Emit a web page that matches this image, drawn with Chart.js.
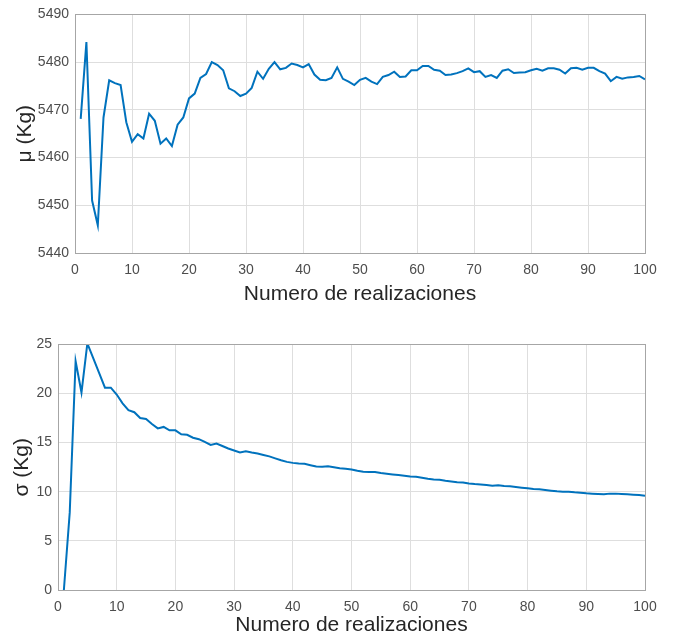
<!DOCTYPE html>
<html>
<head>
<meta charset="utf-8">
<script src="https://cdn.jsdelivr.net/npm/chart.js@4/dist/chart.umd.min.js"></script>
<style>
  html, body { margin: 0; padding: 0; background: #fff; }
  #wrap { position: relative; width: 673px; height: 641px; overflow: hidden; }
  canvas { position: absolute; left: 0; }
  #muChart { top: 0; }
  #sigmaChart { top: 330px; }
</style>
</head>
<body>
<div id="wrap">
  <canvas id="muChart" width="673" height="320"></canvas>
  <canvas id="sigmaChart" width="673" height="311"></canvas>
</div>
<script>
// numero de realizaciones
var realizaciones = [1,2,3,4,5,6,7,8,9,10,11,12,13,14,15,16,17,18,19,20,
  21,22,23,24,25,26,27,28,29,30,31,32,33,34,35,36,37,38,39,40,
  41,42,43,44,45,46,47,48,49,50,51,52,53,54,55,56,57,58,59,60,
  61,62,63,64,65,66,67,68,69,70,71,72,73,74,75,76,77,78,79,80,
  81,82,83,84,85,86,87,88,89,90,91,92,93,94,95,96,97,98,99,100];

// media (Kg)
var mu = [5468.1,5484.2,5451.0,5445.8,5468.4,5476.2,5475.6,5475.2,5467.4,5463.3,
  5464.9,5464.0,5469.2,5467.7,5462.9,5464.0,5462.4,5466.9,5468.4,5472.4,
  5473.4,5476.7,5477.5,5480.0,5479.4,5478.3,5474.5,5473.9,5472.9,5473.4,
  5474.6,5478.0,5476.5,5478.6,5480.0,5478.5,5478.8,5479.7,5479.4,5478.9,
  5479.6,5477.4,5476.3,5476.2,5476.7,5478.9,5476.5,5475.9,5475.2,5476.3,
  5476.7,5475.9,5475.4,5476.9,5477.3,5478.0,5476.9,5477.0,5478.3,5478.3,
  5479.2,5479.2,5478.4,5478.2,5477.3,5477.4,5477.7,5478.1,5478.7,5477.9,
  5478.1,5476.9,5477.3,5476.7,5478.2,5478.5,5477.7,5477.8,5477.9,5478.3,
  5478.6,5478.2,5478.7,5478.7,5478.4,5477.6,5478.7,5478.8,5478.4,5478.8,
  5478.8,5478.1,5477.6,5476.0,5476.9,5476.5,5476.8,5476.9,5477.1,5476.4];

// desviacion estandar (Kg)
var sigma = [0.0,7.9,23.3,20.1,25.1,23.6,22.1,20.6,20.6,19.9,
  19.0,18.3,18.1,17.5,17.4,16.9,16.45,16.6,16.25,16.25,
  15.85,15.8,15.5,15.35,15.07,14.76,14.9,14.66,14.4,14.2,
  14.0,14.12,14.0,13.9,13.75,13.6,13.4,13.2,13.04,12.94,
  12.87,12.84,12.7,12.57,12.54,12.6,12.5,12.4,12.34,12.27,
  12.13,12.03,12.0,12.0,11.9,11.83,11.76,11.7,11.63,11.56,
  11.53,11.43,11.32,11.26,11.22,11.12,11.05,10.98,10.95,10.85,
  10.79,10.75,10.68,10.62,10.65,10.58,10.55,10.48,10.41,10.35,
  10.28,10.25,10.18,10.11,10.04,10.01,10.01,9.94,9.91,9.84,
  9.81,9.77,9.74,9.81,9.81,9.77,9.74,9.7,9.67,9.6];

var xTicks = [0,10,20,30,40,50,60,70,80,90,100];
var muTicks = [5440,5450,5460,5470,5480,5490];
var sigmaTicks = [0,5,10,15,20,25];

Chart.defaults.font.family = '"Liberation Sans", Arial, sans-serif';
Chart.defaults.color = '#4d4d4d';

function points(xs, ys) {
  return xs.map(function(x, i) { return { x: x, y: ys[i] }; });
}

// box around the plot area, like the matlab axes
var boxPlugin = {
  id: 'box',
  afterDraw: function(chart) {
    var a = chart.chartArea, ctx = chart.ctx;
    ctx.save();
    ctx.strokeStyle = '#a6a6a6';
    ctx.lineWidth = 1;
    ctx.strokeRect(Math.round(a.left) + 0.5, Math.round(a.top) + 0.5,
      Math.round(a.right - a.left), Math.round(a.bottom - a.top));
    ctx.restore();
  }
};

function makeChart(id, ys, yTicks, yTitle, yWidth, yTitlePad, xHeight, bottomPad) {
  var ctx = document.getElementById(id).getContext('2d');
  return new Chart(ctx, {
    type: 'line',
    data: {
      datasets: [{
        data: points(realizaciones, ys),
        borderColor: '#0072bd',
        borderWidth: 2,
        pointRadius: 0,
        tension: 0,
        fill: false
      }]
    },
    options: {
      responsive: false,
      animation: false,
      devicePixelRatio: 1,
      layout: { padding: { top: 13, right: 28, left: 0, bottom: bottomPad } },
      plugins: { legend: { display: false }, tooltip: { enabled: false } },
      scales: {
        x: {
          type: 'linear',
          min: xTicks[0],
          max: xTicks[xTicks.length - 1],
          afterBuildTicks: function(s) { s.ticks = xTicks.map(function(v) { return { value: v }; }); },
          afterFit: function(s) { s.height = xHeight; },
          grid: { color: '#dedede', drawTicks: false },
          border: { color: '#a6a6a6' },
          ticks: { font: { size: 14 }, padding: 9, maxRotation: 0,
            callback: function(v) { return String(v); } },
          title: {
            display: true,
            text: 'Numero de realizaciones',
            color: '#262626',
            font: { size: 21 },
            padding: { top: 0, bottom: 0 }
          }
        },
        y: {
          min: yTicks[0],
          max: yTicks[yTicks.length - 1],
          afterBuildTicks: function(s) { s.ticks = yTicks.map(function(v) { return { value: v }; }); },
          afterFit: function(s) { s.width = yWidth; },
          grid: { color: '#dedede', drawTicks: false },
          border: { color: '#a6a6a6' },
          ticks: { font: { size: 14 }, padding: 6,
            callback: function(v) { return String(v); } },
          title: {
            display: true,
            text: yTitle,
            color: '#262626',
            font: { size: 21 },
            padding: { top: yTitlePad, bottom: 0 }
          }
        }
      }
    },
    plugins: [boxPlugin]
  });
}

var muChart = makeChart('muChart', mu, muTicks, 'μ (Kg)', 75, 13, 54, 13);
var sigmaChart = makeChart('sigmaChart', sigma, sigmaTicks, 'σ (Kg)', 58, 10, 48, 3);
</script>
</body>
</html>
